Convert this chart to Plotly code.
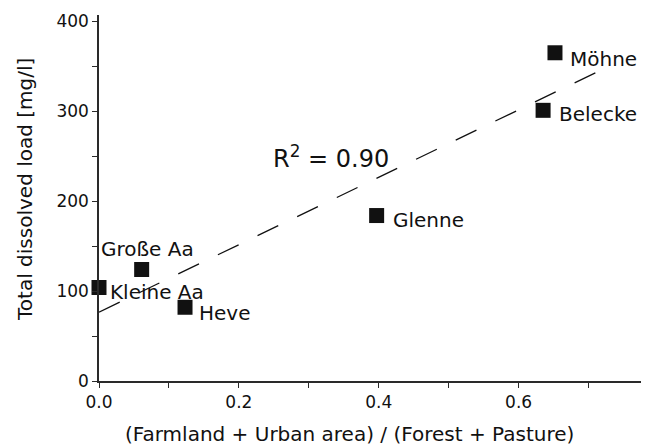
import numpy as np
import plotly.graph_objects as go

# ---- data ----
rivers = ["Kleine Aa", "Große Aa", "Heve", "Glenne", "Belecke", "Möhne"]
land_ratio = [0.0, 0.061, 0.123, 0.397, 0.635, 0.652]
dissolved_load = [104, 124, 82, 184, 301, 365]
r_squared = 0.90
trend_x_end = 0.713
x_tick_vals = [0.0, 0.2, 0.4, 0.6]
x_tick_text = ["0.0", "0.2", "0.4", "0.6"]
x_minor_vals = [0.1, 0.3, 0.5, 0.7]
y_tick_vals = [0, 100, 200, 300, 400]
y_tick_text = ["0", "100", "200", "300", "400"]
y_minor_vals = [50, 150, 250, 350]
x_title = "(Farmland + Urban area) / (Forest + Pasture)"
y_title = "Total dissolved load [mg/l]"

# ---- styling ----
FONT = "DejaVu Sans"
TXT = "#111111"
AX = "#2a2a2a"
label_style = {
    "Kleine Aa": dict(xanchor="left", xshift=9, yshift=-5),
    "Große Aa": dict(xanchor="center", xshift=6, yshift=20),
    "Heve": dict(xanchor="left", xshift=12, yshift=-6),
    "Glenne": dict(xanchor="left", xshift=14, yshift=-4),
    "Belecke": dict(xanchor="left", xshift=14, yshift=-4),
    "Möhne": dict(xanchor="left", xshift=13, yshift=-6),
}

slope, intercept = np.polyfit(land_ratio, dissolved_load, 1)
tx = np.array([0.0, trend_x_end])
ty = intercept + slope * tx

fig = go.Figure()
fig.add_trace(go.Scatter(
    x=tx, y=ty, mode="lines",
    line=dict(color="#111111", width=1.3, dash="23px,21px"),
    hoverinfo="skip", showlegend=False,
))
fig.add_trace(go.Scatter(
    x=land_ratio, y=dissolved_load, mode="markers", cliponaxis=False,
    marker=dict(symbol="square", size=15, color="#111111", line=dict(width=0)),
    showlegend=False,
))

for name, xv, yv in zip(rivers, land_ratio, dissolved_load):
    st = label_style[name]
    fig.add_annotation(
        x=xv, y=yv, xref="x", yref="y", text=name, showarrow=False,
        xanchor=st["xanchor"], yanchor="middle",
        xshift=st["xshift"], yshift=st["yshift"],
        font=dict(family=FONT, size=20, color=TXT),
    )

fig.add_annotation(
    x=0.2457, y=249, xref="x", yref="y",
    text="R<sup>2</sup> = %.2f" % r_squared, showarrow=False,
    xanchor="left", yanchor="middle",
    font=dict(family=FONT, size=24, color=TXT),
)

# axis titles
fig.add_annotation(
    x=0.462, y=-0.145, xref="paper", yref="paper", text=x_title,
    showarrow=False, xanchor="center", yanchor="middle",
    font=dict(family=FONT, size=20, color=TXT),
)
fig.add_annotation(
    x=-0.1365, y=0.522, xref="paper", yref="paper", text=y_title,
    showarrow=False, xanchor="center", yanchor="middle", textangle=-90,
    font=dict(family=FONT, size=20, color=TXT),
)

fig.update_layout(
    width=646, height=446,
    margin=dict(l=99, r=5, t=15, b=65),
    paper_bgcolor="white", plot_bgcolor="white",
    font=dict(family=FONT, color=TXT),
)
fig.update_xaxes(
    range=[0, 0.775], tickmode="array", tickvals=x_tick_vals, ticktext=x_tick_text,
    showgrid=False, zeroline=False, showline=True, linecolor=AX, linewidth=1.5,
    ticks="outside", ticklen=5, tickwidth=1.3, tickcolor=AX,
    tickfont=dict(family=FONT, size=17, color=TXT),
    minor=dict(tickmode="array", tickvals=x_minor_vals, ticks="outside",
               ticklen=5, tickwidth=1.3, tickcolor=AX, showgrid=False),
)
fig.update_yaxes(
    range=[0, 407], tickmode="array", tickvals=y_tick_vals, ticktext=y_tick_text,
    showgrid=False, zeroline=False, showline=True, linecolor=AX, linewidth=1.5,
    ticks="outside", ticklen=5, tickwidth=1.3, tickcolor=AX,
    tickfont=dict(family=FONT, size=17, color=TXT),
    minor=dict(tickmode="array", tickvals=y_minor_vals, ticks="outside",
               ticklen=5, tickwidth=1.3, tickcolor=AX, showgrid=False),
)

fig.write_html("out.html")
